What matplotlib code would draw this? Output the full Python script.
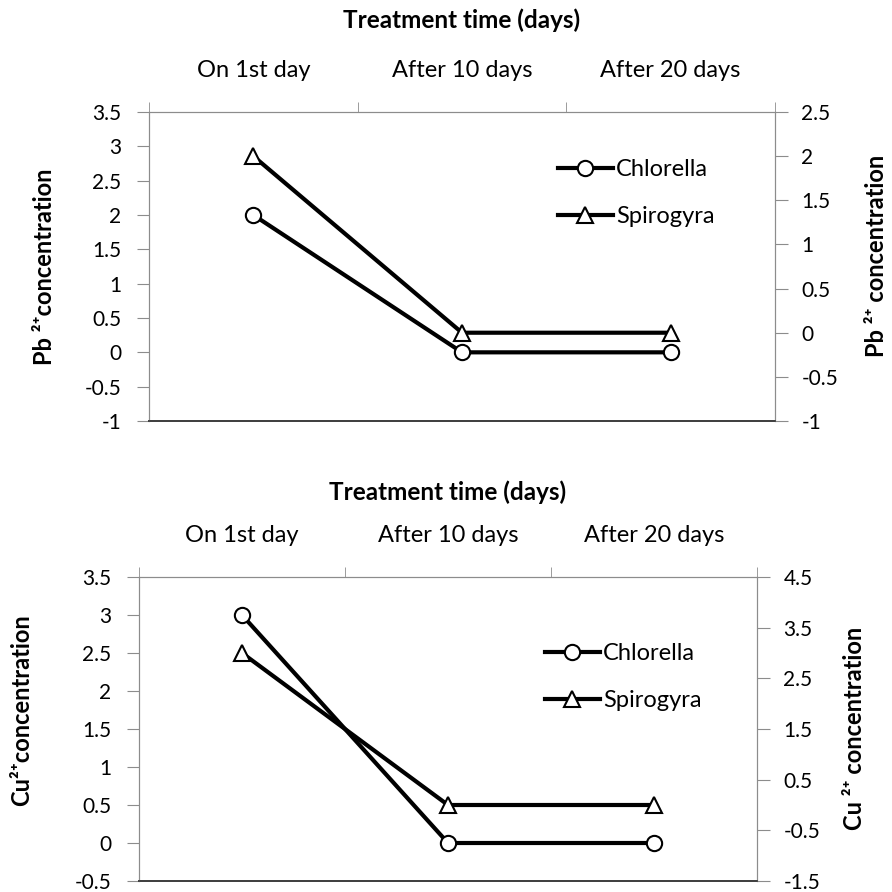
import matplotlib
matplotlib.use("Agg")
import matplotlib.pyplot as plt

categories = ["On 1st day", "After 10 days", "After 20 days"]
pb_chlorella = [2, 0, 0]       # left axis
pb_spirogyra = [2, 0, 0]       # right axis
cu_chlorella = [3, 0, 0]       # left axis
cu_spirogyra = [3, 0, 0]       # right axis

pb_left_ticks = [-1, -0.5, 0, 0.5, 1, 1.5, 2, 2.5, 3, 3.5]
pb_right_ticks = [-1, -0.5, 0, 0.5, 1, 1.5, 2, 2.5]
cu_left_ticks = [-0.5, 0, 0.5, 1, 1.5, 2, 2.5, 3, 3.5]
cu_right_ticks = [-1.5, -0.5, 0.5, 1.5, 2.5, 3.5, 4.5]

plt.rcParams['font.family'] = ['Lato', 'DejaVu Sans']
FS = 15
XFS = 17
GRAY = "#8c8c8c"

fig = plt.figure(figsize=(8.92, 8.92), dpi=100)


def fmt(v):
    return "%g" % v


def panel(rect, lvals, rvals, lticks, rticks, leg_xy, title_y):
    ax = fig.add_axes(rect)
    ax2 = ax.twinx()
    x = list(range(len(categories)))
    ax.set_xlim(-0.5, len(categories) - 0.5)
    ax.set_ylim(lticks[0], lticks[-1])
    ax2.set_ylim(rticks[0], rticks[-1])
    ax.set_yticks(lticks)
    ax.set_yticklabels([fmt(v) for v in lticks], fontsize=FS)
    ax2.set_yticks(rticks)
    ax2.set_yticklabels([fmt(v) for v in rticks], fontsize=FS)
    ax.xaxis.tick_top()
    ax.set_xticks(x)
    ax.set_xticklabels(categories, fontsize=XFS)
    ax.set_xticks([-0.5 + i for i in range(len(categories) + 1)], minor=True)
    ax.tick_params(axis='x', which='major', length=0, pad=22)
    ax.tick_params(axis='x', which='minor', length=7, color=GRAY, direction='out', top=True, bottom=False)
    ax.tick_params(axis='y', length=9, color=GRAY, pad=11)
    ax2.tick_params(axis='y', length=9, color=GRAY, pad=10)
    for a in (ax, ax2):
        for s in ('left', 'right', 'top'):
            a.spines[s].set_color(GRAY)
        a.spines['bottom'].set_color("#404040")
        a.spines['bottom'].set_linewidth(1.3)
    l1, = ax.plot(x, lvals, color='black', lw=3, marker='o', ms=11,
                  mfc='white', mec='black', mew=1.5, zorder=3, clip_on=False)
    l2, = ax2.plot(x, rvals, color='black', lw=3, marker='^', ms=11,
                   mfc='white', mec='black', mew=1.5, zorder=3, clip_on=False)
    fig.legend([l1, l2], ["Chlorella", "Spirogyra"], loc='upper left',
               bbox_to_anchor=leg_xy, frameon=False, fontsize=17,
               handlelength=2.3, handletextpad=0.15, labelspacing=1.1)
    fig.text(rect[0] + rect[2] / 2, title_y, "Treatment time (days)",
             ha='center', va='center', fontsize=17.5, fontweight='bold')
    return ax, ax2


H = 892.0
# top panel
panel([149 / H, 1 - 421 / H, (775 - 149) / H, (421 - 112) / H],
      pb_chlorella, pb_spirogyra, pb_left_ticks, pb_right_ticks,
      (537 / H, 1 - 138 / H), 1 - 20 / H)
# bottom panel
panel([139 / H, 1 - 881 / H, (757 - 139) / H, (881 - 577) / H],
      cu_chlorella, cu_spirogyra, cu_left_ticks, cu_right_ticks,
      (524 / H, 1 - 622 / H), 1 - 492 / H)

lab = dict(rotation=90, ha='center', va='center', fontsize=17, fontweight='bold')
fig.text(45 / H, 1 - 267 / H, "Pb \u00b2\u207aconcentration", **lab)
fig.text(877 / H, 1 - 256 / H, "Pb \u00b2\u207a concentration", **lab)
fig.text(22 / H, 1 - 710 / H, "Cu\u00b2\u207aconcentration", **lab)
fig.text(855 / H, 1 - 728 / H, "Cu \u00b2\u207a concentration", **lab)

fig.savefig("out.png", dpi=100)
